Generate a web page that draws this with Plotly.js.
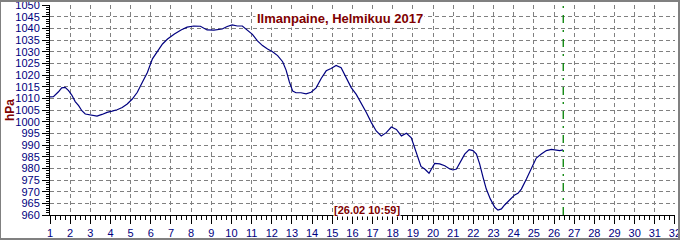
<!DOCTYPE html>
<html>
<head>
<meta charset="utf-8">
<script src="https://cdn.plot.ly/plotly-3.0.1.min.js"></script>
<style>
html,body{margin:0;padding:0;background:#fff;}
#wrap{position:relative;width:680px;height:240px;}
#chart{width:680px;height:240px;}
#frame{position:absolute;left:0;top:0;width:680px;height:240px;box-sizing:border-box;border:2px solid #808080;border-left-width:1px;pointer-events:none;}
</style>
</head>
<body>
<div id="wrap"><div id="chart"></div><div id="frame"></div></div>
<script>
// Time in days of February 2017 (fractional) and air pressure (hPa)
const days = [1.0,1.17,1.42,1.58,1.75,1.92,2.08,2.25,2.42,2.58,2.75,3.0,3.33,3.58,3.83,4.08,4.33,4.58,4.83,5.08,5.33,5.58,5.83,6.08,6.33,6.58,6.83,7.17,7.5,7.8,8.13,8.46,8.79,9.13,9.54,9.79,10.04,10.29,10.54,10.79,11.04,11.29,11.54,11.79,12.04,12.29,12.54,12.71,12.87,13.04,13.2,13.45,13.7,13.95,14.2,14.45,14.7,14.94,15.19,15.44,15.69,15.94,16.19,16.44,16.69,16.94,17.18,17.43,17.68,17.93,18.18,18.43,18.68,18.92,19.17,19.4,19.6,19.8,19.92,20.08,20.33,20.58,20.83,20.99,21.16,21.4,21.57,21.79,21.98,22.15,22.31,22.48,22.64,22.84,23.06,23.22,23.39,23.55,23.8,24.05,24.21,24.38,24.63,24.88,25.12,25.37,25.62,25.87,26.12,26.28,26.45];
const pressure = [1010.6,1010.7,1012.8,1014.5,1014.7,1013.3,1011.4,1008.6,1006.9,1004.7,1003.3,1002.9,1002.4,1003.1,1004.0,1004.5,1005.1,1006.1,1007.6,1009.7,1012.6,1016.9,1021.1,1026.9,1030.4,1033.3,1035.4,1037.6,1039.3,1040.5,1041.0,1040.9,1039.3,1039.2,1039.7,1040.8,1041.5,1041.0,1041.0,1039.3,1037.4,1034.6,1032.6,1031.1,1030.0,1028.3,1025.7,1022.1,1017.1,1013.1,1012.4,1012.4,1011.9,1012.6,1014.5,1018.5,1021.8,1022.8,1024.1,1023.1,1018.9,1014.6,1011.7,1008.1,1003.9,999.6,996.0,993.9,995.3,997.7,996.7,993.9,995.0,993.1,986.7,980.8,979.6,977.9,979.7,982.1,981.9,981.1,979.7,979.3,979.7,983.3,986.1,988.0,987.6,986.1,981.9,976.1,971.1,966.9,963.3,962.1,962.6,964.3,966.4,968.6,969.3,971.1,975.4,980.4,984.4,986.1,987.6,988.1,987.6,987.6,987.9];
const currentTime = 26 + (10 + 59/60) / 24; // [26.02 10:59]
const titleText = "Ilmanpaine, Helmikuu 2017";
const stampText = "[26.02 10:59]";
const yTitle = "hPa";
const xRange = [0.9995, 32.0005];
const yRange = [959.998, 1050.002];

const tickFont = {family: "'Liberation Sans Narrow','Arial Narrow','Liberation Sans',Arial,sans-serif", size: 11, color: '#000080'};
const redBold = {family: "'Liberation Sans',Arial,sans-serif", color: '#800000'};

const trace = {
  x: days, y: pressure, type: 'scatter', mode: 'lines',
  line: {color: '#000080', width: 1.2}, hoverinfo: 'skip'
};

const layout = {
  width: 680, height: 240,
  margin: {l: 50, r: 5, t: 5, b: 25, pad: 0},
  paper_bgcolor: '#ffffff', plot_bgcolor: '#ffffff',
  showlegend: false,
  xaxis: {
    range: xRange, tickmode: 'linear', tick0: 1, dtick: 1,
    showgrid: true, gridcolor: '#808080', griddash: '4px,3px', gridwidth: 1,
    zeroline: false, showline: true, linecolor: '#000000', linewidth: 1,
    ticks: 'outside', ticklen: 8, tickcolor: '#000000', tickwidth: 1,
    minor: {dtick: 0.25, ticks: 'outside', ticklen: 4, tickcolor: '#000000', showgrid: false},
    tickfont: tickFont, ticklabeloverflow: 'allow', fixedrange: true
  },
  yaxis: {
    range: yRange, tickmode: 'linear', tick0: 960, dtick: 5,
    showgrid: true, gridcolor: '#808080', griddash: '4px,3px', gridwidth: 1,
    zeroline: false, showline: true, linecolor: '#000000', linewidth: 1,
    ticks: 'outside', ticklen: 7, tickcolor: '#000000', tickwidth: 1,
    minor: {dtick: 1, ticks: 'outside', ticklen: 3, tickcolor: '#000000', showgrid: false},
    tickfont: tickFont, ticklabeloverflow: 'allow', fixedrange: true
  },
  shapes: [{
    type: 'line', xref: 'x', yref: 'paper', x0: currentTime, x1: currentTime, y0: 0, y1: 1,
    line: {color: '#008000', width: 1.3, dash: '8px,7px,2px,7px'}
  }],
  annotations: [
    {text: '<b>' + titleText + '</b>', xref: 'paper', yref: 'paper',
     x: (340 - 50) / 625, y: 1 - (18 - 5) / 210, xanchor: 'center', yanchor: 'middle',
     showarrow: false, bgcolor: '#ffffff', borderpad: 1, font: Object.assign({size: 13}, redBold)},
    {text: '<b>' + stampText + '</b>', xref: 'paper', yref: 'paper',
     x: (367 - 50) / 625, y: (215 - 209.5) / 210, xanchor: 'center', yanchor: 'middle',
     showarrow: false, bgcolor: '#ffffff', borderpad: 0, font: Object.assign({size: 11}, redBold)},
    {text: '<b>' + yTitle + '</b>', xref: 'paper', yref: 'paper',
     x: (10 - 50) / 625, y: 0.5, xanchor: 'center', yanchor: 'middle', textangle: -90,
     showarrow: false, font: Object.assign({size: 12}, redBold)}
  ]
};

Plotly.newPlot('chart', [trace], layout, {staticPlot: true, displayModeBar: false});
</script>
</body>
</html>
